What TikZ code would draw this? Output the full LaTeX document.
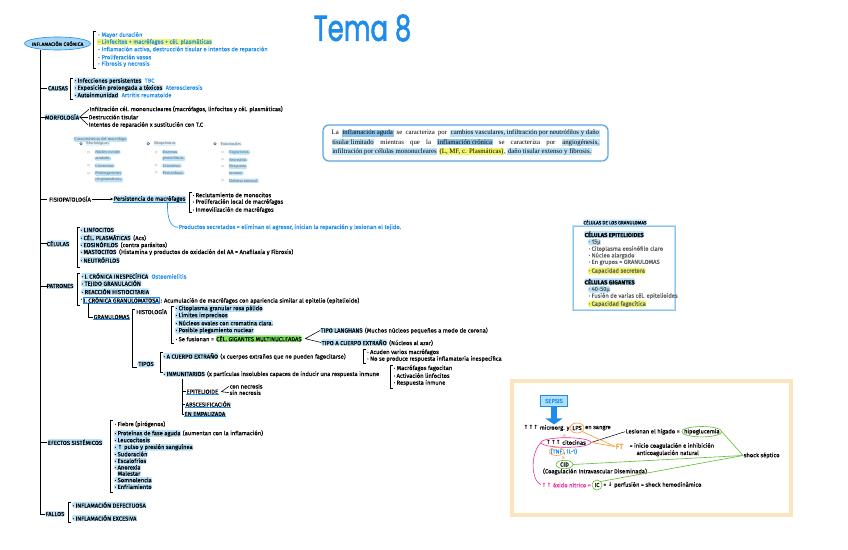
\documentclass[tikz,border=0pt]{standalone}
\usepackage{fontspec}
\setmainfont{Fira Sans}[FakeBold=0.3]
\newfontfamily\serifbox{Liberation Serif}
\newfontfamily\titlefont{Poppins}[FakeBold=2]
\newfontfamily\dejavu{DejaVu Sans}
\usetikzlibrary{arrows.meta,shapes.geometric,positioning}
\definecolor{tblue}{RGB}{30,140,235}
\definecolor{hlblue}{RGB}{188,226,249}
\definecolor{hldark}{RGB}{140,196,236}
\definecolor{hlyel}{RGB}{240,246,110}
\definecolor{hlgreen}{RGB}{130,226,100}
\definecolor{ellfill}{RGB}{165,215,245}
\definecolor{sorange}{RGB}{250,150,40}
\definecolor{sgreen}{RGB}{95,190,45}
\definecolor{spink}{RGB}{240,50,150}
\definecolor{sframe}{RGB}{252,228,188}
\definecolor{boxblue}{RGB}{80,140,200}
\definecolor{gtext}{RGB}{95,95,95}
\definecolor{sepfill}{RGB}{175,225,250}
\newcommand\fsz{\fontsize{5.8}{7}\selectfont}
\newcommand\arrup{{\dejavu\bfseries ↑}}
\newcommand\arrdn{{\dejavu\bfseries ↓}}
\newcommand\trimk{{\dejavu ▷}}
\newcommand\hb[1]{{\setlength{\fboxsep}{0.6pt}\colorbox{hlblue}{#1}}}
\newcommand\hd[1]{{\setlength{\fboxsep}{0.6pt}\colorbox{hldark}{#1}}}
\newcommand\hy[1]{{\setlength{\fboxsep}{0.6pt}\colorbox{hlyel}{#1}}}
\newcommand\myul[1]{\draw[tblue,line width=0.6pt] (#1.south west) -- (#1.south east);}
\newcommand\mybrk[3]{\draw[brk] (#1+2.5,#2) -- (#1,#2) -- (#1,#3) -- (#1+2.5,#3);}
\begin{document}
\begin{tikzpicture}[x=1pt,y=-1pt,
 tx/.style={font=\fsz, anchor=west, inner sep=0.5pt, text=black},
 btx/.style={tx, text=tblue},
 hl/.style={tx, fill=hlblue, rounded corners=1.5pt},
 hly/.style={tx, fill=hlyel, rounded corners=1.5pt},
 hlg/.style={tx, fill=hlgreen, rounded corners=1.5pt},
 hlc/.style={hl, anchor=center},
 brk/.style={line width=0.55pt, line join=round},
 trunkline/.style={line width=0.9pt},
 ser/.style={font=\serifbox\fontsize{4.2}{4.8}\selectfont, anchor=west, inner sep=0.6pt, text=gtext, fill=hlblue, rounded corners=1.2pt},
 trim/.style={font=\fontsize{3.4}{4}\selectfont, anchor=center, inner sep=0, text=gtext},
 gt/.style={tx, text=gtext},
 ring/.style={line width=0.6pt}
]
\useasboundingbox (0,0) rectangle (848,549);
\fill[white] (0,0) rectangle (848,549);

% ---------- title
\node[text=tblue, inner sep=0] (title) at (362.5,28) {\titlefont\scalebox{0.72}[1]{\fontsize{36}{38}\selectfont Tema 8}};

% ---------- main ellipse and trunk
\draw[tblue, fill=ellfill, line width=0.6pt] (57.5,43.5) ellipse [x radius=33, y radius=6.5];
\node[font=\fontsize{5}{5.5}\selectfont, inner sep=0] (ic) at (57.5,43.7) {INFLAMACIÓN CRÓNICA};
\coordinate (tr) at (40.7,50);

\mybrk{93}{31.5}{68}
\node[btx] (t1) at (97,35) {- Mayor duración};
\node[btx, fill=hlyel] (t2) at (97,42) {- Linfocitos + macrófagos + cél. plasmáticas};
\node[btx] (t3) at (97,49.5) {- Inflamación activa, destrucción tisular e intentos de reparación};
\node[btx] (t4) at (97,57) {- Proliferación vasos};
\node[btx] (t5) at (97,64) {- Fibrosis y necrosis};

% ---------- causas
\node[hlc] (causas) at (58,88.3) {CAUSAS};
\mybrk{70.5}{78}{99}
\node[hl] (ca1) at (74,81) {· Infecciones persistentes};
\node[btx, base right=2pt of ca1] (ca1b) {TBC};
\node[hl] (ca2) at (74,88) {· Exposición prolongada a tóxicos};
\node[btx, base right=2pt of ca2] (ca2b) {Aterosclerosis};
\node[hl] (ca3) at (74,95) {· Autoinmunidad};
\node[btx, base right=2pt of ca3] (ca3b) {Artritis reumatoide};

% ---------- morfologia
\node[hlc] (morf) at (62,117) {MORFOLOGÍA};
\node[tx] (m1) at (89,109.3) {Infiltración cél. mononucleares (macrófagos, linfocitos y cél. plasmáticas)};
\node[tx] (m2) at (88,117) {Destrucción tisular};
\node[tx] (m3) at (88,125) {Intentos de reparación x sustitución con T.C};
\draw[brk] (morf.east) -- (m1.west);
\draw[brk] (morf.east) -- (m2.west);
\draw[brk] (morf.east) -- (m3.west);

% ---------- table macrofago
\node[ser, font=\serifbox\fontsize{4.4}{5}\selectfont] (chead) at (73.5,139.3) {Características del macrófago};
\draw[gtext, line width=0.5pt] (81,143.7) circle [radius=1.3];
\draw[gtext, line width=0.5pt] (148.3,143.7) circle [radius=1.3];
\draw[gtext, line width=0.5pt] (215,143.7) circle [radius=1.3];
\node[ser, fill=hlblue!45] (c1h) at (85.5,143.7) {Morfológicas};
\node[ser, fill=hlblue!45] (c2h) at (153.5,143.7) {Bioquímicas};
\node[ser, fill=hlblue!45] (c3h) at (220,143.7) {Funcionales};
\foreach \xx/\yy in {89.3/152.3, 89.3/165.7, 89.3/173.3, 156.7/152.3, 156.7/165.7, 156.7/172.7, 223.3/152.3, 223.3/160, 223.3/166.7, 223.3/180.7}
  \node[trim] at (\xx,\yy) {\trimk};
\node[ser] (a1) at (94.5,152.3) {Núcleo ovoide};
\node[ser] (a1b) at (94.5,158.5) {acodado.};
\node[ser] (a2) at (94.5,165.7) {Lisosomas.};
\node[ser] (a3) at (94.5,173.3) {Prolongaciones};
\node[ser] (a3b) at (94.5,179.8) {citoplasmáticas.};
\node[ser] (b1) at (162,152.3) {Enzimas};
\node[ser] (b1b) at (162,158.5) {proteolíticas.};
\node[ser] (b2) at (162,165.7) {Lisozimas.};
\node[ser] (b3) at (162,172.7) {Peroxidasas.};
\node[ser] (d1) at (228.5,152.3) {Fagocitosis.};
\node[ser] (d2) at (228.5,160) {Secreción.};
\node[ser] (d3) at (228.5,166.7) {Respuesta};
\node[ser] (d3b) at (228.5,173.3) {inmune.};
\node[ser] (d4) at (228.5,180.7) {Defensa tumoral.};

% ---------- fisiopatologia
\node[tx, anchor=center] (fisio) at (70,199) {FISIOPATOLOGÍA};
\node[hl] (pers) at (113,199) {Persistencia de macrófagos};
\myul{pers}
\draw[-{Stealth[length=2.5pt,width=2.5pt]}, line width=0.5pt] (fisio.east) -- (pers.west);
\mybrk{189}{192}{212.5}
\node[tx] (f1) at (192,195) {· Reclutamiento de monocitos};
\node[tx] (f2) at (192,202) {· Proliferación local de macrófagos};
\node[tx] (f3) at (192,210) {· Inmovilización de macrófagos};
\node[btx] (prod) at (178,227.3) {Productos secretados = eliminan el agresor, inician la reparación y lesionan el tejido.};
\draw[tblue, line width=0.6pt] ([xshift=18pt]pers.south) .. controls (167,220) and (171,227) .. (prod.west);

% ---------- celulas
\node[hlc] (cel) at (58,243.5) {CÉLULAS};
\mybrk{77}{227}{267}
\node[hl] (ce1) at (80,230) {· LINFOCITOS};
\node[hl] (ce2) at (80,237.5) {· CÉL. PLASMÁTICAS};
\node[tx, base right=1.5pt of ce2] (ce2b) {(Acs)};
\node[hl] (ce3) at (80,244.5) {· EOSINÓFILOS};
\node[tx, base right=1.5pt of ce3] (ce3b) {(contra parásitos)};
\node[hl] (ce4) at (80,252) {· MASTOCITOS};
\node[tx, base right=1.5pt of ce4] (ce4b) {(Histamina y productos de oxidación del AA = Anafilaxia y Fibrosis)};
\node[hl] (ce5) at (80,260) {· NEUTRÓFILOS};

% ---------- patrones
\node[hlc] (pat) at (60,286) {PATRONES};
\mybrk{77}{273}{305}
\node[hl] (p1) at (81,276) {· I. CRÓNICA INESPECÍFICA};
\node[btx, base right=2pt of p1] (p1b) {Osteomielitis};
\node[hl] (p2) at (81,283.5) {· TEJIDO GRANULACIÓN};
\node[hl] (p3) at (81,291.5) {· REACCIÓN HISTIOCITARIA};
\node[tx] (p4d) at (80,300) {·};
\node[tx, draw=tblue, line width=0.5pt, fill=hlblue!40] (p4) at (83,300) {I. CRÓNICA GRANULOMATOSA};
\node[tx, base right=0.5pt of p4] (p4b) {: Acumulación de macrófagos con apariencia similar al epitelio (epitelioide)};

% ---------- granulomas
\node[tx] (gran) at (93,317) {GRANULOMAS};
\myul{gran}
\draw[brk] ([xshift=5pt]p4.south west) |- (gran.west);

\node[tx] (hist) at (135.5,311.5) {HISTOLOGÍA};
\node[hlc, rounded corners=3pt, inner sep=1.2pt] (tipos) at (146,364) {TIPOS};
\draw[brk] (134.5,309) -- (132,309) |- (tipos.south west);

\mybrk{171.5}{306}{343}
\node[hl] (h1) at (175,308.5) {· Citoplasma granular rosa pálido};
\node[hl] (h2) at (175,315.5) {· Límites imprecisos};
\node[hl] (h3) at (175,323) {· Núcleos ovales con cromatina clara.};
\node[hl] (h4) at (175,330.5) {· Posible plegamiento nuclear};
\node[tx] (h5) at (175,339) {· Se fusionan =};
\node[hlg, base right=1pt of h5] (h5g) {CÉL. GIGANTES MULTINUCLEADAS};
\coordinate (fk) at ([xshift=3pt]h5g.east);
\node[hl] (lang) at (320,330.5) {TIPO LANGHANS};
\node[tx, base right=1pt of lang] (langb) {(Muchos núcleos pequeños a modo de corona)};
\node[hl] (cext) at (321,342.5) {TIPO A CUERPO EXTRAÑO};
\node[tx, base right=1pt of cext] (cextb) {(Núcleos al azar)};
\draw[brk] (lang.west) -- (fk) -- (cext.west);

% ---------- tipos
\mybrk{160}{352.5}{372}
\node[hl] (ti1) at (163,356) {· A CUERPO EXTRAÑO};
\node[tx, base right=1pt of ti1] (ti1x) {(x cuerpos extraños que no pueden fagocitarse)};
\mybrk{363.5}{349.5}{363}
\node[tx] (ti1a) at (366.5,352.3) {· Acuden varios macrófagos};
\node[tx] (ti1b) at (366.5,359) {· No se produce respuesta inflamatoria inespecífica};
\node[hl] (ti2) at (163,374) {· INMUNITARIOS};
\node[tx, base right=1pt of ti2] (ti2x) {(x partículas insolubles capaces de inducir una respuesta inmune};
\mybrk{390}{365.5}{388.5}
\node[tx] (ti2a) at (393,368.3) {· Macrófagos fagocitan};
\node[tx] (ti2b) at (393,375.5) {· Activación linfocitos};
\node[tx] (ti2c) at (393,383) {· Respuesta inmune};

\node[tx] (epi) at (186,391.7) {EPITELIOIDE};
\myul{epi}
\node[tx] (cn) at (229,386.3) {con necrosis};
\node[tx] (sn) at (229,392.7) {sin necrosis};
\coordinate (fk2) at ([xshift=2.5pt]epi.east);
\draw[brk] (cn.west) -- (fk2) -- (sn.west);
\node[tx] (absc) at (185,404) {ABSCESIFICACIÓN};
\myul{absc}
\node[hl] (emp) at (184,414) {EN EMPALIZADA};
\myul{emp}
\draw[brk] (182,378.5) -- (182,414) -- (emp.west);
\draw[brk] (182,391.7) -- (epi.west);
\draw[brk] (182,404) -- (absc.west);

% ---------- efectos sistemicos
\node[hlc] (efe) at (75,442.3) {EFECTOS SISTÉMICOS};
\mybrk{110}{420}{492}
\node[tx] (e1) at (114,424.3) {· Fiebre (pirógenos)};
\node[hl] (e2) at (114,433.5) {· Proteínas de fase aguda};
\node[tx, base right=1pt of e2] (e2b) {(aumentan con la inflamación)};
\node[hl] (e3) at (114,440) {· Leucocitosis};
\node[hl] (e4) at (114,447.3) {· \arrup\ pulso y presión sanguínea};
\node[hl] (e5) at (114,454) {· Sudoración};
\node[hl] (e6) at (114,460.7) {· Escalofríos};
\node[hl] (e7) at (114,467.3) {· Anorexia};
\node[hl] (e8) at (117,473.5) {Malestar};
\node[hl] (e9) at (114,480) {· Somnolencia};
\node[hl] (e10) at (114,486.7) {· Enfriamiento};

% ---------- fallos
\node[hlc] (fal) at (55,514) {FALLOS};
\mybrk{68}{502}{522}
\node[hl] (fa1) at (72,505) {· INFLAMACIÓN DEFECTUOSA};
\node[hl] (fa2) at (72,518) {· INFLAMACIÓN EXCESIVA};

% trunk and branches
\draw[trunkline] (tr) |- (fal.west);
\foreach \n in {causas,morf,fisio,cel,pat,efe}
  \draw[trunkline] (tr |- \n.west) -- ++(6,0);

% ---------- summary box
\draw[hlblue, line width=2pt, rounded corners=6pt] (323,125) rectangle (608,161);
\draw[boxblue, line width=0.6pt, rounded corners=6pt] (323,125) rectangle (608,161);
\node[anchor=west, inner sep=0, font=\serifbox\fontsize{6.8}{7.5}\selectfont] (al1) at (331.5,133.3)
  {\makebox[268pt][s]{La \hd{inflamación aguda} se caracteriza por \hb{cambios vasculares, infiltración por neutrófilos y daño}}};
\node[anchor=west, inner sep=0, font=\serifbox\fontsize{6.8}{7.5}\selectfont] (al2) at (331.5,142.7)
  {\makebox[268pt][s]{\hb{tisular limitado} mientras que la \hd{inflamación crónica} se caracteriza por \hb{angiogénesis,}}};
\node[anchor=west, inner sep=0, font=\serifbox\fontsize{6.8}{7.5}\selectfont] (al3) at (331.5,151.7)
  {\hb{infiltración por células mononucleares} \hy{(L, MF, c. Plasmáticas)}, \hb{daño tisular extenso y fibrosis.}};

% ---------- celulas de los granulomas
\node[font=\fontsize{4.6}{5}\selectfont, fill=hlblue, rounded corners=1.5pt, inner sep=0.6pt] (cgt) at (615,222.3) {CÉLULAS DE LOS GRANULOMAS};
\myul{cgt}
\draw[hlblue, line width=2.2pt] (573,226) rectangle (675,310);
\draw[hldark, line width=0.5pt] (573,226) rectangle (675,310);
\node[hl, font=\fsz\bfseries] (g1) at (584,234.3) {CÉLULAS EPITELIOIDES};
\node[gt, fill=hlblue, rounded corners=1.5pt] (g2) at (588,242.3) {· 15µ};
\node[gt] (g3) at (588,249) {· Citoplasma eosinófilo claro};
\node[gt] (g4) at (588,255.7) {· Núcleo alargado};
\node[gt] (g5) at (588,262.5) {· En grupos = GRANULOMAS};
\node[gt, fill=hlyel, rounded corners=1.5pt] (g6) at (588,271) {· Capacidad secretora};
\node[hl, font=\fsz\bfseries] (g7) at (584,281.7) {CÉLULAS GIGANTES};
\node[gt, fill=hlblue, rounded corners=1.5pt] (g8) at (588,289.5) {· 40-50µ};
\node[gt] (g9) at (588,296) {· Fusión de varias cél. epitelioides};
\node[gt, fill=hlyel, rounded corners=1.5pt] (g10) at (588,304) {· Capacidad fagocítica};

% ---------- sepsis
\draw[sframe, line width=4pt] (512,381) rectangle (791,515);
\node[draw=tblue, fill=sepfill, line width=0.6pt, font=\fsz, text=tblue, minimum width=27, minimum height=11, inner sep=0.5pt] (sepsis) at (554,401) {SEPSIS};
\node[tx] (mic1) at (523,428) {\arrup\arrup\arrup\ microorg. y};
\node[tx, right=1.5pt of mic1] (lps) {LPS};
\draw[ring, sorange] (lps.center) ellipse [x radius=7, y radius=5];
\node[tx, right=2pt of lps] (mic2) {en sangre};
\draw[tblue, line width=6pt, -{Triangle[length=6pt,width=17pt]}] (sepsis.south) -- (sepsis.south |- mic1.north);
\node[font=\fsz, text=sorange, rotate=90, inner sep=0] (eq1) at (565,435.5) {=};
\node[tx, anchor=center] (cito) at (566,442.5) {\arrup\arrup\arrup\ citocinas};
\draw[ring, spink] (cito.center) ellipse [x radius=25, y radius=4.8];
\node[btx] (tnfa) at (550,451.5) {(TNF};
\draw[ring, sorange, line width=0.5pt] (tnfa.center) ellipse [x radius=7.5, y radius=4];
\node[btx, right=0pt of tnfa] (tnfb) {, IL-1)};
\node[font=\fsz, text=sorange, rotate=90, inner sep=0] (eq2) at (564,457.5) {=};
\node[tx, anchor=center] (cid) at (564.5,464.5) {CID};
\draw[ring, sgreen] (cid.center) ellipse [x radius=8.5, y radius=4.2];
\node[tx, anchor=center] (coag) at (595,471.5) {(Coagulación Intravascular Diseminada)};
\node[tx, text=spink] (oxi) at (541,485) {\arrup\arrup\ óxido nítrico =};
\node[tx, right=2.5pt of oxi] (ic2) {IC};
\draw[ring, sgreen] (ic2.center) circle [radius=5];
\node[tx, right=2.5pt of ic2] (perf) {+ \arrdn\ perfusión = shock hemodinámico};
\node[tx] (les) at (625,431.7) {Lesionan el hígado =};
\node[tx, right=3pt of les] (hipo) {hipoglucemia};
\draw[ring, sgreen] (hipo.center) ellipse [x radius=20, y radius=5.2];
\node[tx, text=sorange, font=\fontsize{7.5}{8}\selectfont] (ft) at (615,446.5) {FT};
\node[tx] (ftt1) at (629,446) {= inicio coagulación e inhibición};
\node[tx] (ftt2) at (636,453.3) {anticoagulación natural};
\node[tx] (shock) at (743,455.5) {shock séptico};
\coordinate (lpsR) at ([xshift=5pt,yshift=-3.5pt]lps.center);
\coordinate (citoR) at ([xshift=25pt]cito.center);
\coordinate (citoL) at ([xshift=-25pt]cito.center);
\coordinate (hipoR) at ([xshift=20pt]hipo.center);
\coordinate (cidR) at ([xshift=8.5pt]cid.center);
\coordinate (icNE) at ([xshift=3.5pt,yshift=3.5pt]ic2.center);
\draw[line width=0.5pt] (citoR) -- (les.west);
\draw[sorange, line width=0.6pt] (lpsR) -- (ft.west);
\draw[sorange, line width=0.6pt] (citoR) -- (ft.west);
\draw[sgreen, line width=0.6pt] (hipoR) -- (shock.west);
\draw[sgreen, line width=0.6pt] (cidR) -- (shock.west);
\draw[sgreen, line width=0.6pt] (icNE) -- (shock.west);
\draw[spink, line width=0.6pt] (citoL) .. controls (531,452) and (530,479) .. (oxi.west);
\end{tikzpicture}
\end{document}
